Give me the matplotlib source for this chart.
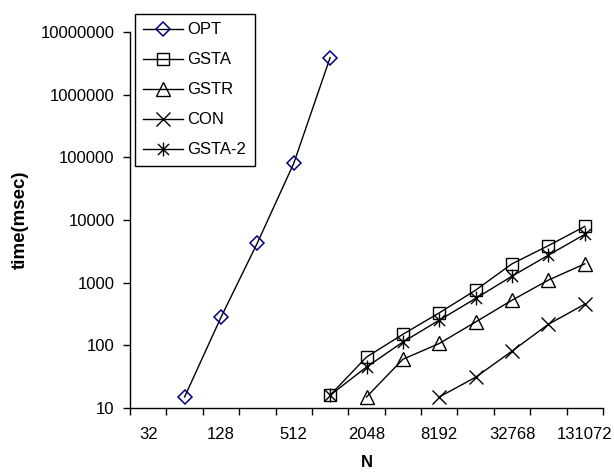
import matplotlib
matplotlib.use("Agg")
import matplotlib.pyplot as plt
from matplotlib.path import Path
from matplotlib.ticker import NullLocator, NullFormatter, FixedLocator, FixedFormatter

# Data
n_opt = [64, 128, 256, 512, 1024]
opt = [15, 280, 4300, 80000, 3900000]

n_gsta = [1024, 2048, 4096, 8192, 16384, 32768, 65536, 131072]
gsta = [16, 65, 150, 330, 760, 2000, 3900, 7900]
gsta2 = [16, 45, 113, 252, 560, 1270, 2750, 5900]

n_gstr = [2048, 4096, 8192, 16384, 32768, 65536, 131072]
gstr = [15, 60, 107, 236, 525, 1100, 2000]

n_con = [8192, 16384, 32768, 65536, 131072]
con = [15, 31, 81, 217, 454]

x_ticks = [32, 128, 512, 2048, 8192, 32768, 131072]
y_ticks = [10, 100, 1000, 10000, 100000, 1000000, 10000000]

plt.rcParams["font.family"] = ["Liberation Sans", "DejaVu Sans"]

# Excel style star: x with a vertical bar
star = Path([(-1, -1), (1, 1), (-1, 1), (1, -1), (0, -1.25), (0, 1.25)],
            [Path.MOVETO, Path.LINETO, Path.MOVETO, Path.LINETO,
             Path.MOVETO, Path.LINETO])

fig = plt.figure(figsize=(6.14, 4.75), dpi=100)
ax = fig.add_axes([130 / 614, 1 - 408 / 475, 473 / 614, 376 / 475])

lw = 1.0
ax.plot(n_opt, opt, color="black", lw=lw, marker="D", ms=6.8,
        mec="#000080", mfc="none", mew=1.1, label="OPT")
ax.plot(n_gsta, gsta, color="black", lw=lw, marker="s", ms=9,
        mec="black", mfc="none", mew=1.0, label="GSTA")
ax.plot(n_gstr, gstr, color="black", lw=lw, marker="^", ms=10,
        mec="black", mfc="none", mew=1.0, label="GSTR")
ax.plot(n_con, con, color="black", lw=lw, marker="x", ms=9.5,
        mec="black", mew=1.0, label="CON")
ax.plot(n_gsta, gsta2, color="black", lw=lw, marker=star, ms=10,
        mec="black", mew=1.0, label="GSTA-2")

ax.set_xscale("log", base=2)
ax.set_yscale("log")
ax.set_xlim(2 ** 4.5, 2 ** 17.5)
ax.set_ylim(10, 10000000)

ax.xaxis.set_major_locator(FixedLocator(x_ticks))
ax.xaxis.set_major_formatter(FixedFormatter([str(v) for v in x_ticks]))
ax.xaxis.set_minor_locator(FixedLocator([2 ** (k + 0.5) for k in range(4, 18)]))
ax.xaxis.set_minor_formatter(NullFormatter())
ax.yaxis.set_major_locator(FixedLocator(y_ticks))
ax.yaxis.set_major_formatter(FixedFormatter([str(v) for v in y_ticks]))
ax.yaxis.set_minor_locator(NullLocator())

ax.tick_params(axis="x", which="major", length=0, pad=14, labelsize=12)
ax.tick_params(axis="x", which="minor", length=5, width=1, direction="out")
ax.tick_params(axis="y", which="major", length=5, width=1, pad=6, labelsize=12)

for side in ["top", "right"]:
    ax.spines[side].set_visible(False)
for side in ["left", "bottom"]:
    ax.spines[side].set_linewidth(1)

ax.set_ylabel("time(msec)", fontsize=13.5, fontweight="bold", va="center")
ax.yaxis.set_label_coords((20 - 130) / 473, 0.5)
ax.set_xlabel("N", fontsize=12, fontweight="bold", va="center")
ax.xaxis.set_label_coords(0.5, (408 - 462) / 376)

leg = ax.legend(loc="upper left", bbox_to_anchor=(135 / 614, 1 - 14 / 475),
                bbox_transform=fig.transFigure, borderaxespad=0,
                fontsize=12, fancybox=False, framealpha=1, edgecolor="black",
                handlelength=2.4, handletextpad=0.24, labelspacing=0.9,
                borderpad=0.5)
leg.get_frame().set_linewidth(1)

fig.savefig("out.png", dpi=100)
plt.close()
